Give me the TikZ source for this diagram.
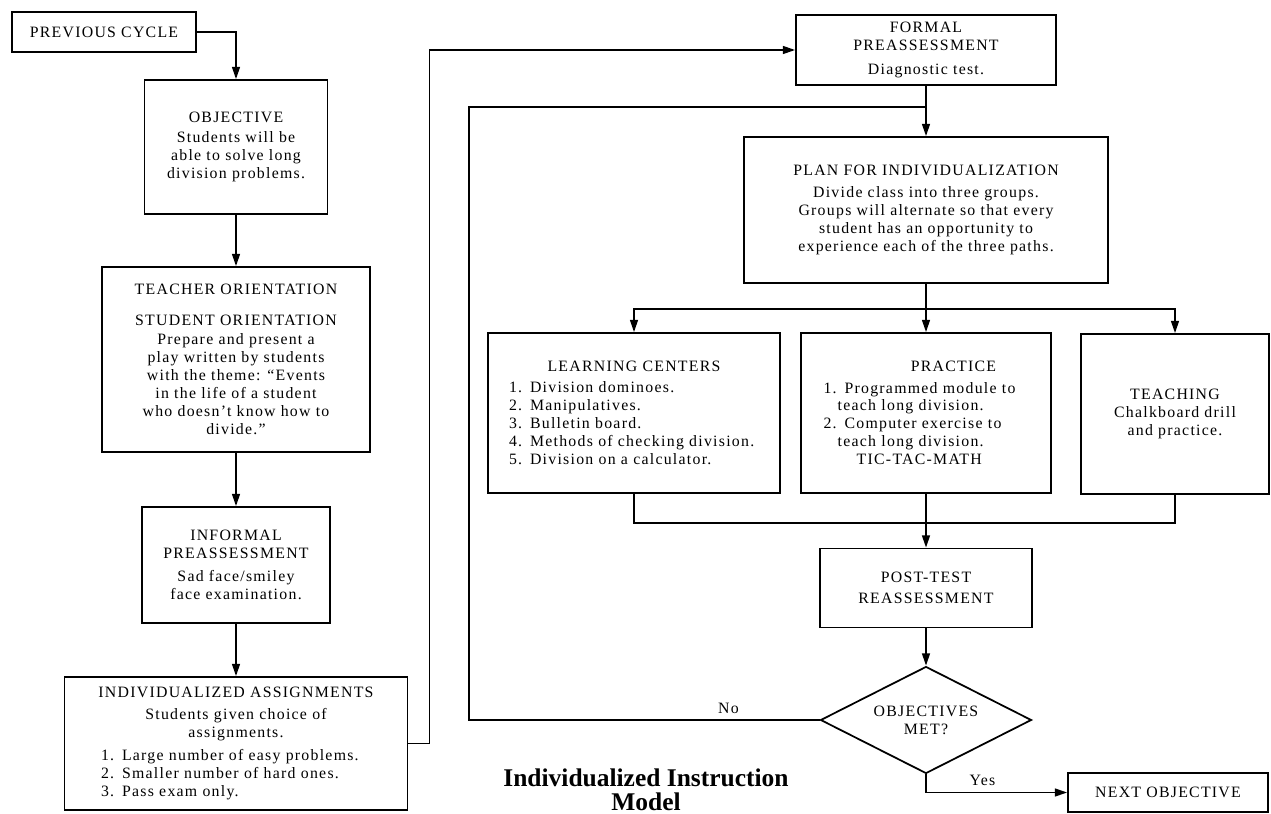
\documentclass[tikz,border=0pt]{standalone}
\usepackage{fontspec}
\setmainfont{Liberation Serif}[LetterSpace=8]
\newfontfamily\titlefont{Liberation Serif}
\usetikzlibrary{arrows.meta,shapes.geometric}

\begin{document}
\begin{tikzpicture}[
        font=\fontsize{9}{10.2}\selectfont,line width=1pt,
        >={Triangle[length=7pt,width=4.5pt]},
        box/.style={draw,rectangle,inner sep=0pt,align=center},
        listbox/.style={draw,rectangle,inner sep=0pt,align=left},
        decision/.style={draw,diamond,inner sep=0pt,aspect=2,align=center}]

    \useasboundingbox (0,0) rectangle (25.42,-16.28);

    % left column
    \node[box,minimum width=3.68cm,minimum height=0.8cm] (prev) at (2.08,-0.64) {PREVIOUS CYCLE};
    \node[box,minimum width=3.66cm,minimum height=2.68cm] (obj) at (4.72,-2.94)
        {OBJECTIVE\\[1pt]Students will be\\able to solve long\\division problems.};
    \node[box,minimum width=5.36cm,minimum height=3.7cm] (teach) at (4.72,-7.19)
        {TEACHER ORIENTATION\\[7pt]STUDENT ORIENTATION\\[1pt]Prepare and present a\\play written by students\\with the theme: ``Events\\in the life of a student\\who doesn't know how to\\divide.''};
    \node[box,minimum width=3.76cm,minimum height=2.32cm] (inf) at (4.72,-11.3)
        {INFORMAL\\PREASSESSMENT\\[3pt]Sad face/smiley\\face examination.};
    \node[listbox,minimum width=6.86cm,minimum height=2.66cm,text width=5.4cm] (assign) at (4.72,-14.87)
        {\makebox[\linewidth]{INDIVIDUALIZED ASSIGNMENTS}\\[2pt]
         \makebox[\linewidth]{Students given choice of}\\
         \makebox[\linewidth]{assignments.}\\[3pt]
         1. Large number of easy problems.\\
         2. Smaller number of hard ones.\\
         3. Pass exam only.};

    % right part
    \node[box,minimum width=5.2cm,minimum height=1.4cm] (formal) at (18.52,-1.0)
        {FORMAL\\PREASSESSMENT\\[3pt]Diagnostic test.};
    \node[box,minimum width=7.28cm,minimum height=2.92cm] (plan) at (18.52,-4.2)
        {PLAN FOR INDIVIDUALIZATION\\[2pt]Divide class into three groups.\\Groups will alternate so that every\\student has an opportunity to\\experience each of the three paths.};
    \node[listbox,minimum width=5.84cm,minimum height=3.2cm,text width=5.0cm] (learn) at (12.68,-8.26)
        {\makebox[\linewidth]{LEARNING CENTERS}\\[2pt]
         1. Division dominoes.\\
         2. Manipulatives.\\
         3. Bulletin board.\\
         4. Methods of checking division.\\
         5. Division on a calculator.};
    \node[listbox,minimum width=5.0cm,minimum height=3.2cm,text width=4.1cm] (prac) at (18.52,-8.26)
        {\makebox[\linewidth]{\hspace*{1.1cm}PRACTICE}\\[2pt]
         1. Programmed module to\\
         \hspace*{0.9em}teach long division.\\
         2. Computer exercise to\\
         \hspace*{0.9em}teach long division.\\
         \hspace*{2.1em}TIC-TAC-MATH};
    \node[box,minimum width=3.76cm,minimum height=3.2cm] (teachg) at (23.5,-8.28)
        {TEACHING\\Chalkboard drill\\and practice.};
    \node[box,minimum width=4.24cm,minimum height=1.58cm] (postt) at (18.52,-11.76)
        {POST-TEST\\[2pt]REASSESSMENT};
    \node[decision,minimum width=4.22cm,minimum height=2.14cm] (diam) at (18.52,-14.4)
        {OBJECTIVES\\MET?};
    \node[box,minimum width=4.0cm,minimum height=0.78cm] (next) at (23.36,-15.85) {NEXT OBJECTIVE};

    \node[font={\titlefont\bfseries\fontsize{14.5}{13.6}\selectfont},align=center] (title) at (12.92,-15.8)
        {Individualized Instruction\\Model};

    \coordinate (loop) at (9.38,-2.14);

    % connectors
    \draw[->] (prev.east) -| (obj.north);
    \draw[->] (obj.south) -- (teach.north);
    \draw[->] (teach.south) -- (inf.north);
    \draw[->] (inf.south) -- (assign.north);
    \draw[->] (assign.east) -- ++(0.42,0) |- (formal.west);
    \draw[->] (formal.south) -- (plan.north);
    \draw (diam.west) -| (loop) node[above,pos=0.13] {No} -- (loop -| plan.north);
    \draw[->] (plan.south) -- (prac.north);
    \draw[->] (plan.south) ++(0,-0.5) coordinate (split) -| (learn.north);
    \draw[->] (split) -| (teachg.north);
    \draw (learn.south) -- ++(0,-0.58) coordinate (merge) -| (teachg.south);
    \draw[->] (prac.south) -- (postt.north);
    \draw[->] (postt.south) -- (diam.north);
    \draw[->] (diam.south) |- (next.west) node[above,pos=0.7] {Yes};
\end{tikzpicture}
\end{document}
